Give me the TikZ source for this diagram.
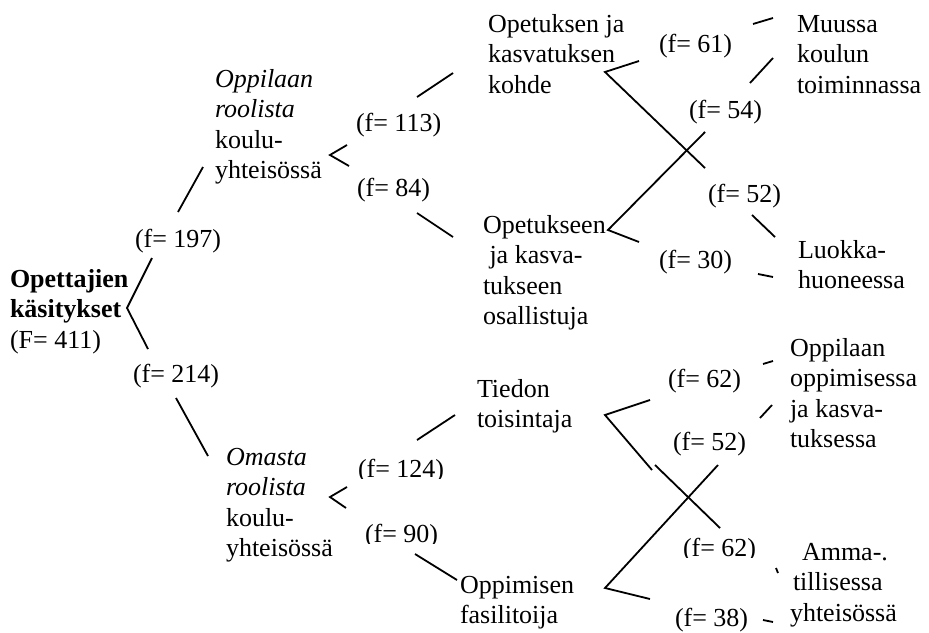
\documentclass[tikz,border=0pt]{standalone}
\usepackage{fontspec}
\setmainfont{Liberation Serif}
% stacked lines whose baseline is the baseline of the first line
\newcommand{\rows}[1]{\begin{tabular}[t]{@{}l@{}}#1\end{tabular}}
\tikzset{
  lbl/.style={anchor=base west, inner sep=0pt, outer sep=0pt,
              font=\fontsize{26}{30.5}\selectfont},
  branch/.style={line width=1.8pt, line join=miter}
}
\begin{document}
\begin{tikzpicture}[x=1pt,y=-1pt]
\useasboundingbox (0,0) rectangle (929,632);

% ---------- root ----------
\node[lbl] (root) at (10,287) {\rows{\textbf{Opettajien}\\\textbf{käsitykset}\\(F= 411)}};
\node[lbl] (f197) at (135,247) {(f= 197)};
\node[lbl] (f214) at (133,382) {(f= 214)};

% ---------- second level ----------
\node[lbl] (oppilaan) at (215,87) {\rows{\textit{Oppilaan}\\\textit{roolista}\\koulu-\\yhteisössä}};
\node[lbl] (omasta) at (226,465) {\rows{\textit{Omasta}\\\textit{roolista}\\koulu-\\yhteisössä}};

\node[lbl] (f113) at (356,131) {(f= 113)};
\node[lbl] (f84) at (357,196) {(f= 84)};
% these two labels sit in boxes that cut off their lower edge
\begin{scope}
  \clip (340,440) rectangle (470,478.5);
  \node[lbl] (f124) at (358,477) {(f= 124)};
\end{scope}
\begin{scope}
  \clip (340,510) rectangle (470,543.5);
  \node[lbl] (f90) at (365,542) {(f= 90)};
\end{scope}

% ---------- third level ----------
\node[lbl] (kohde) at (488,32) {\rows{Opetuksen ja\\kasvatuksen\\kohde}};
\node[lbl] (osall) at (483,233) {\rows{Opetukseen\\\ ja kasva-\\tukseen\\osallistuja}};
\node[lbl] (tiedon) at (477,397) {\rows{Tiedon\\toisintaja}};
\node[lbl] (fasil) at (460,593) {\rows{Oppimisen\\fasilitoija}};

\node[lbl] (f61) at (659,52) {(f= 61)};
\node[lbl] (f54) at (689,118) {(f= 54)};
\node[lbl] (f52a) at (708,202) {(f= 52)};
\node[lbl] (f30) at (659,268) {(f= 30)};
\node[lbl] (f62a) at (668,387) {(f= 62)};
\node[lbl] (f52b) at (673,450) {(f= 52)};
\begin{scope}
  \clip (670,525) rectangle (770,557.5);
  \node[lbl] (f62b) at (683,556) {(f= 62)};
\end{scope}
\node[lbl] (f38) at (675,626) {(f= 38)};

% ---------- leaves ----------
\node[lbl] (muussa) at (797,32) {\rows{Muussa\\koulun\\toiminnassa}};
\node[lbl] (luokka) at (798,258) {\rows{Luokka-\\huoneessa}};
\node[lbl] (oppimisessa) at (790,356) {\rows{Oppilaan\\oppimisessa\\ja kasva-\\tuksessa}};
\node[lbl] (amma) at (790,560) {\rows{\hspace{12pt}Amma-.\\\hspace{3pt}tillisessa\\yhteisössä}};

% ---------- connectors: root ----------
\coordinate (rv) at (127,308);
\coordinate (ru) at (152,258);
\coordinate (rd) at (148,349);
\draw[branch] (ru) -- (rv) -- (rd);
\coordinate (u1a) at (178,212); \coordinate (u1b) at (203,167);
\coordinate (d1a) at (176,398); \coordinate (d1b) at (208,456);
\draw[branch] (u1a) -- (u1b);
\draw[branch] (d1a) -- (d1b);

% ---------- connectors: Oppilaan roolista ----------
\coordinate (ov) at (330,155);
\coordinate (ou) at (347,145);
\coordinate (od) at (349,166);
\draw[branch] (ou) -- (ov) -- (od);
\coordinate (o1a) at (417,97);  \coordinate (o1b) at (453,73);
\coordinate (o2a) at (417,213); \coordinate (o2b) at (453,237);
\draw[branch] (o1a) -- (o1b);
\draw[branch] (o2a) -- (o2b);

% ---------- connectors: Omasta roolista ----------
\coordinate (mv) at (330,497);
\coordinate (mu) at (347,487);
\coordinate (md) at (346,508);
\draw[branch] (mu) -- (mv) -- (md);
\coordinate (m1a) at (417,440); \coordinate (m1b) at (455,415);
\coordinate (m2a) at (415,554); \coordinate (m2b) at (457,580);
\draw[branch] (m1a) -- (m1b);
\draw[branch] (m2a) -- (m2b);

% ---------- connectors: upper crossing ----------
\coordinate (kv) at (605,72);
\coordinate (ku) at (639,61);
\coordinate (kd) at (705,168);
\draw[branch] (ku) -- (kv) -- (kd);
\coordinate (pv) at (608,230);
\coordinate (pd) at (639,242);
\coordinate (pu) at (705,132);
\draw[branch] (pu) -- (pv) -- (pd);
\coordinate (t1a) at (753,24);  \coordinate (t1b) at (773,18);
\coordinate (t2a) at (750,83);  \coordinate (t2b) at (773,58);
\coordinate (t3a) at (752,215); \coordinate (t3b) at (775,237);
\coordinate (t4a) at (758,274); \coordinate (t4b) at (773,277);
\draw[branch] (t1a) -- (t1b);
\draw[branch] (t2a) -- (t2b);
\draw[branch] (t3a) -- (t3b);
\draw[branch] (t4a) -- (t4b);

% ---------- connectors: lower crossing ----------
\coordinate (tv) at (605,415);
\coordinate (tu) at (650,400);
\coordinate (tm) at (652,470);
\coordinate (tn) at (655,465);
\coordinate (td) at (720,528);
\draw[branch] (tu) -- (tv) -- (tm);
\draw[branch] (tn) -- (td);
\coordinate (fv) at (605,588);
\coordinate (fd) at (650,599);
\coordinate (fu) at (718,465);
\draw[branch] (fu) -- (fv) -- (fd);
\coordinate (s1a) at (763,364); \coordinate (s1b) at (773,361);
\coordinate (s2a) at (760,418); \coordinate (s2b) at (772,405);
\coordinate (s3a) at (776,568); \coordinate (s3b) at (778,573);
\coordinate (s4a) at (763,620); \coordinate (s4b) at (773,622);
\draw[branch] (s1a) -- (s1b);
\draw[branch] (s2a) -- (s2b);
\draw[branch] (s3a) -- (s3b);
\draw[branch] (s4a) -- (s4b);
\end{tikzpicture}
\end{document}
